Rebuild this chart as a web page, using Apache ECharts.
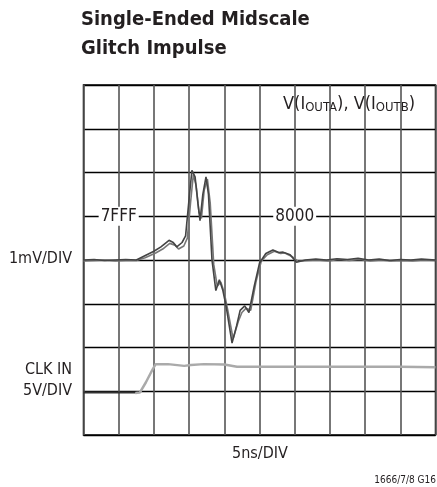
<!DOCTYPE html>
<html><head><meta charset="utf-8">
<script src="https://cdn.jsdelivr.net/npm/echarts@6/dist/echarts.min.js"></script>
<style>html,body{margin:0;padding:0;background:#fff}#c{width:437px;height:487px}</style>
</head><body><div id="c"></div>
<script>
// Time in divisions (5ns/DIV), amplitude in divisions
const traceA = [[0,4.0],[0.3,4.01],[0.6,3.99],[0.9,4.0],[1.2,4.01],[1.5,4.0],[1.7,4.08],[2.0,4.2],[2.2,4.3],[2.43,4.45],[2.55,4.4],[2.65,4.3],[2.8,4.4],[2.9,4.55],[3.0,5.4],[3.08,6.05],[3.17,5.9],[3.25,5.3],[3.31,4.9],[3.39,5.5],[3.48,5.9],[3.55,5.5],[3.65,4.0],[3.76,3.3],[3.86,3.55],[3.96,3.3],[4.05,2.95],[4.22,2.1],[4.35,2.5],[4.45,2.85],[4.58,2.95],[4.7,2.8],[4.85,3.4],[5.0,3.93],[5.18,4.15],[5.38,4.23],[5.55,4.17],[5.67,4.18],[5.87,4.12],[6.05,3.95],[6.3,4.0],[6.6,4.02],[6.9,4.0],[7.2,4.03],[7.5,4.01],[7.8,4.04],[8.1,4.0],[8.4,4.02],[8.7,3.99],[9.0,4.01],[9.3,4.0],[9.6,4.02],[10,4.0]];
const traceB = [[0,3.98],[0.3,3.99],[0.6,4.0],[0.9,3.98],[1.2,3.99],[1.5,3.99],[1.75,4.05],[2.05,4.16],[2.25,4.25],[2.45,4.38],[2.6,4.34],[2.7,4.25],[2.85,4.32],[2.95,4.5],[3.04,5.3],[3.12,5.95],[3.2,5.7],[3.28,5.1],[3.35,4.95],[3.43,5.6],[3.52,5.85],[3.6,5.3],[3.7,3.9],[3.8,3.4],[3.9,3.5],[4.0,3.25],[4.1,2.85],[4.25,2.2],[4.4,2.6],[4.5,2.8],[4.62,2.9],[4.75,2.85],[4.9,3.5],[5.05,3.97],[5.22,4.12],[5.42,4.2],[5.6,4.15],[5.72,4.16],[5.92,4.08],[6.1,3.97],[6.35,3.99],[6.65,4.0],[6.95,3.98],[7.25,4.01],[7.55,3.99],[7.85,4.01],[8.15,3.98],[8.45,4.0],[8.75,3.98],[9.05,3.99],[9.35,3.98],[9.65,4.0],[10,3.99]];
const clkRef = [[0,0.97],[1.47,0.97]];
const clkIn = [[1.47,0.96],[1.6,0.97],[1.77,1.2],[1.95,1.48],[2.05,1.62],[2.4,1.62],[2.86,1.58],[3.05,1.6],[3.42,1.62],[4.0,1.61],[4.36,1.56],[5,1.56],[6,1.56],[7,1.56],[8,1.56],[9,1.56],[10,1.55]];
const codeLabels = [{name:'7FFF',coord:[1,5]},{name:'8000',coord:[6,5]}];

const F = '"Liberation Sans Narrow","DejaVu Sans Condensed","Liberation Sans",sans-serif';
const chart = echarts.init(document.getElementById('c'));
chart.setOption({
  animation:false,
  backgroundColor:'#fff',
  grid:{left:83.5,top:85,width:352,height:350,show:true,borderColor:'#000',borderWidth:1.5,backgroundColor:'transparent'},
  xAxis:{type:'value',min:0,max:10,interval:1,axisLine:{show:false},axisTick:{show:false},axisLabel:{show:false},
    splitLine:{show:true,lineStyle:{color:'#555',width:1.6}}},
  yAxis:{type:'value',min:0,max:8,interval:1,axisLine:{show:false},axisTick:{show:false},axisLabel:{show:false},
    splitLine:{show:true,lineStyle:{color:'#000',width:1.4}}},
  graphic:[
    {type:'text',left:81,top:5,style:{text:'Single-Ended Midscale\nGlitch Impulse',font:'bold 20px '+F,fill:'#231f20',lineHeight:29}},
    {type:'text',right:365,top:251,style:{text:'1mV/DIV',font:'16px '+F,fill:'#231f20',textAlign:'right'}},
    {type:'text',right:365,top:359,style:{text:'CLK IN\n5V/DIV',font:'16px '+F,fill:'#231f20',textAlign:'right',lineHeight:21}},
    {type:'text',left:232,top:446,style:{text:'5ns/DIV',font:'16px '+F,fill:'#231f20'}},
    {type:'text',right:1,top:475,style:{text:'1666/7/8 G16',font:'10px '+F,fill:'#231f20',textAlign:'right'}},
    {type:'text',left:283,top:95,style:{
      text:'V(I{s|OUTA}), V(I{s|OUTB})',font:'18px '+F,fill:'#231f20',
      rich:{s:{fontSize:13,fontFamily:F,fill:'#231f20',padding:[7,0,0,0]}}}}
  ],
  series:[
    {type:'line',data:clkIn,showSymbol:false,lineStyle:{color:'#aaa',width:2.5},z:3},
    {type:'line',data:clkRef,showSymbol:false,lineStyle:{color:'#333',width:2},z:4},
    {type:'line',data:traceB,showSymbol:false,lineStyle:{color:'#777',width:1.6},z:5},
    {type:'line',data:traceA,showSymbol:false,lineStyle:{color:'#444',width:1.6},z:6,
      markPoint:{symbol:'rect',symbolSize:0,data:codeLabels.map(d=>({name:d.name,coord:d.coord})),
        label:{show:true,formatter:'{b}',position:'inside',color:'#231f20',fontSize:17,fontFamily:F,
          backgroundColor:'#fff',padding:[1,2]}}}
  ]
});
</script></body></html>
